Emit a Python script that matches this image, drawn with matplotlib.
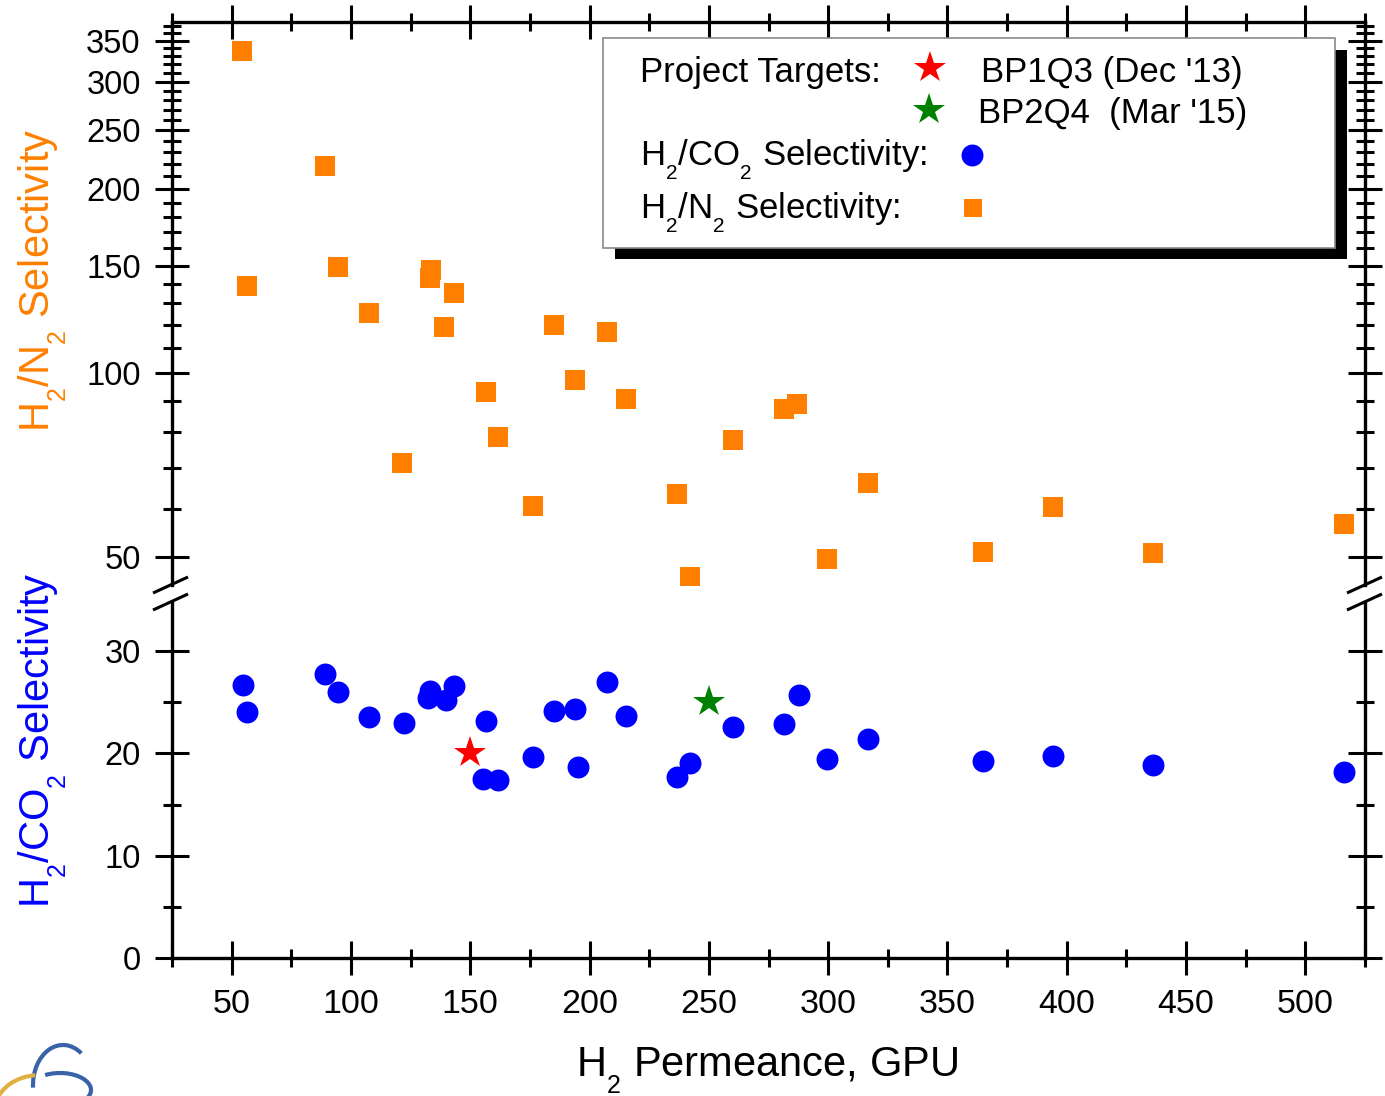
import numpy as np
import matplotlib.pyplot as plt
import matplotlib._mathtext as mt
from matplotlib.ticker import FixedLocator, NullFormatter
from matplotlib.patches import Rectangle, Arc

plt.rcParams['font.family'] = ['Liberation Sans', 'DejaVu Sans']
plt.rcParams['mathtext.default'] = 'regular'

# the original uses small, low-set subscripts
mt.SHRINK_FACTOR = 0.6
for c in [mt.FontConstantsBase] + list(mt._font_constant_mapping.values()):
    c.sub1 = 0.75

# H2/N2 selectivity (orange squares, log panel)
n2_perm = [54.2, 56.3, 89.0, 94.4, 107.4, 121.6, 133.4, 133.0, 139.2, 143.0,
           156.8, 161.5, 176.1, 184.9, 194.1, 207.5, 215.1, 236.5, 241.9, 260.3,
           281.7, 287.1, 299.7, 316.5, 364.7, 394.4, 436.3, 516.3]
n2_sel = [336.5, 138.8, 218.2, 149.1, 125.4, 71.2, 147.4, 143.1, 118.9, 135.2,
          93.1, 78.6, 60.6, 119.8, 97.4, 116.7, 90.6, 63.4, 46.4, 77.7,
          87.3, 89.0, 49.6, 66.1, 50.9, 60.3, 50.7, 56.6]

# H2/CO2 selectivity (blue circles, linear panel)
co2_perm = [54.6, 56.3, 89.0, 94.4, 107.4, 122.1, 133.0, 132.5, 139.7, 143.0,
            156.8, 155.2, 161.5, 176.1, 184.9, 194.1, 195.0, 207.5, 215.1, 236.5,
            241.9, 260.3, 281.7, 287.6, 299.7, 316.5, 364.7, 394.4, 436.3, 516.3]
co2_sel = [26.7, 24.0, 27.8, 26.0, 23.6, 23.0, 26.1, 25.4, 25.2, 26.6,
           23.2, 17.5, 17.4, 19.6, 24.1, 24.3, 18.7, 27.0, 23.7, 17.7,
           19.1, 22.6, 22.9, 25.7, 19.5, 21.4, 19.3, 19.7, 18.9, 18.2]

# project targets
target_names = ["BP1Q3 (Dec '13)", "BP2Q4  (Mar '15)"]
target_perm = [150, 250]
target_sel = [20, 25]
target_colors = ['#ff0000', '#008000']

x_major = list(range(50, 501, 50))
x_minor = list(range(25, 526, 50))
n2_major = [50, 100, 150, 200, 250, 300, 350]
n2_minor = [v for v in range(60, 371, 10) if v not in n2_major]
co2_major = [0, 10, 20, 30]
co2_minor = [5, 15, 25]

blue = '#0000ff'
orange = '#ff8000'

W, H = 1385, 1096
fig = plt.figure(figsize=(W / 100, H / 100), dpi=100)

def box(x0, y0, x1, y1):
    # pixel box -> figure fraction rect
    return [x0 / W, 1 - y1 / H, (x1 - x0) / W, (y1 - y0) / H]

ax_top = fig.add_axes(box(172, 22, 1365, 585))
ax_bot = fig.add_axes(box(172, 602, 1365, 958))

ax_top.plot(n2_perm, n2_sel, 's', color=orange, ms=13.7, mew=0, zorder=3)
ax_bot.plot(co2_perm, co2_sel, 'o', color=blue, ms=15.8, mew=0, zorder=3)
for xp, yp, c in zip(target_perm, target_sel, target_colors):
    ax_bot.plot([xp], [yp], '*', color=c, ms=24, mew=0, zorder=4)

ax_top.set_yscale('log')
ax_top.set_ylim(45, 375.5)
ax_bot.set_ylim(0, 34.8)
for ax in (ax_top, ax_bot):
    ax.set_xlim(25, 525)
    ax.xaxis.set_major_locator(FixedLocator(x_major))
    ax.xaxis.set_minor_locator(FixedLocator(x_minor))
    for s in ax.spines.values():
        s.set_linewidth(2.4)

ax_top.yaxis.set_major_locator(FixedLocator(n2_major))
ax_top.yaxis.set_minor_locator(FixedLocator(n2_minor))
ax_top.yaxis.set_major_formatter(plt.FixedFormatter([str(v) for v in n2_major]))
ax_top.yaxis.set_minor_formatter(NullFormatter())
ax_bot.yaxis.set_major_locator(FixedLocator(co2_major))
ax_bot.yaxis.set_minor_locator(FixedLocator(co2_minor))

ax_top.spines['bottom'].set_visible(False)
ax_bot.spines['top'].set_visible(False)

ax_top.tick_params(axis='x', which='both', bottom=False, top=True,
                   labelbottom=False, labeltop=False)
ax_bot.tick_params(axis='x', which='both', bottom=True, top=False,
                   labelsize=24.5, pad=9.5)
for ax in (ax_top, ax_bot):
    ax.tick_params(axis='y', which='both', left=True, right=True,
                   labelsize=23.5, pad=10)
    ax.tick_params(which='major', direction='inout', length=25, width=2.2)
    ax.tick_params(which='minor', direction='inout', length=13.5, width=2.2)

# overlay in pixel coordinates for axis break, labels and custom legend
ov = fig.add_axes([0, 0, 1, 1], zorder=10)
ov.set_xlim(0, W)
ov.set_ylim(H, 0)
ov.axis('off')

for xs in (153, 1347):
    ov.plot([xs, xs + 35], [593, 577], color='black', lw=2.2, solid_capstyle='butt')
    ov.plot([xs, xs + 35], [610, 594], color='black', lw=2.2, solid_capstyle='butt')

ov.text(50, 280, 'H$_2$/N$_2$ Selectivity', color=orange, fontsize=30,
        rotation=90, rotation_mode='anchor', ha='center', va='baseline')
ov.text(50, 740, 'H$_2$/CO$_2$ Selectivity', color=blue, fontsize=30,
        rotation=90, rotation_mode='anchor', ha='center', va='baseline')
ov.text(767, 1077, 'H$_2$ Permeance, GPU', color='black', fontsize=30,
        ha='center', va='baseline')

# legend box with shadow
ov.add_patch(Rectangle((615, 50), 732, 209, facecolor='black', edgecolor='none'))
ov.add_patch(Rectangle((603, 38), 732, 210, facecolor='white',
                       edgecolor='#8a8a8a', lw=1.2))
fs = 25
ov.text(640, 82, 'Project Targets:', fontsize=fs, va='baseline')
ov.plot([930], [68], '*', color=target_colors[0], ms=24, mew=0)
ov.text(981, 82, target_names[0], fontsize=fs, va='baseline')
ov.plot([929], [110], '*', color=target_colors[1], ms=24, mew=0)
ov.text(978, 123, target_names[1], fontsize=fs, va='baseline')
ov.text(640, 166, 'H$_2$/CO$_2$ Selectivity:', fontsize=fs, va='baseline')
ov.plot([972], [155], 'o', color=blue, ms=15.8, mew=0)
ov.text(640, 219, 'H$_2$/N$_2$ Selectivity:', fontsize=fs, va='baseline')
ov.plot([973], [208], 's', color=orange, ms=13, mew=0)

# small logo swoosh in the corner
ov.add_patch(Arc((63, 1085), 60, 80, theta1=175, theta2=300,
                 color='#3a62a8', lw=3))
ov.add_patch(Arc((60, 1090), 62, 34, theta1=225, theta2=20,
                 color='#3a62a8', lw=3))
ov.add_patch(Arc((40, 1110), 90, 70, theta1=190, theta2=262,
                 color='#e0b040', lw=3))

fig.savefig('out.png', dpi=100)
